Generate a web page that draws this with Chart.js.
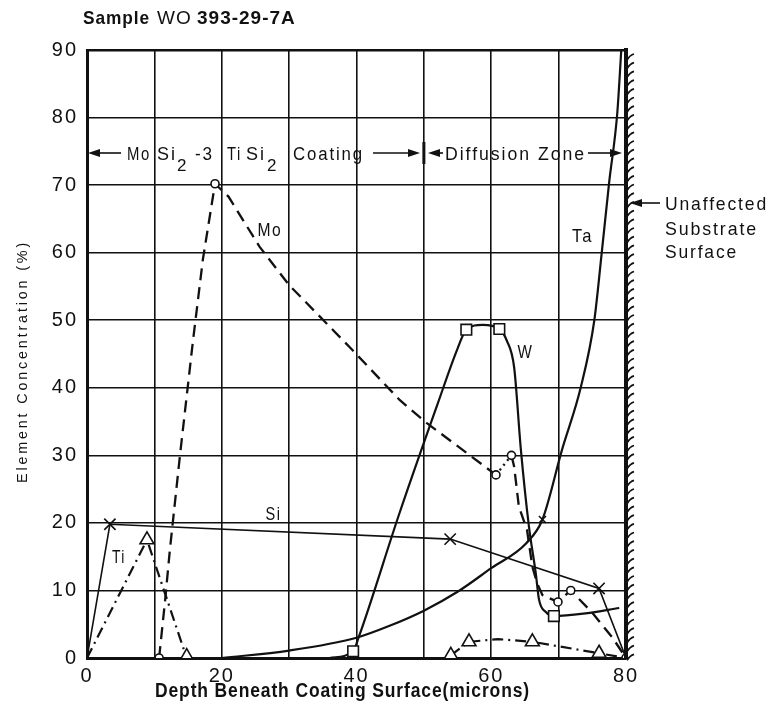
<!DOCTYPE html>
<html>
<head>
<meta charset="utf-8" />
<title>Sample WO 393-29-7A</title>
<script src="https://cdn.jsdelivr.net/npm/chart.js"></script>
<style>
  body { margin:0; padding:0; background:#fff; }
  #chart { display:block; }
</style>
</head>
<body>
<canvas id="chart" width="774" height="708"></canvas>
<script>
// depth beneath coating surface (microns) vs element concentration (%)
const xTickLabels = [0, 20, 40, 60, 80];

// traced curves
const moDepth = [10.7, 11.6, 12.3, 13.8, 15.7, 17.2, 19.0, 21.0, 25.6, 30.0, 39.0, 46.4, 50.4, 56.3, 60.7, 63.0, 63.4, 64.1, 65.3, 66.1, 66.8, 67.6, 69.9, 71.8, 75.0, 78.0, 80.0];
const moConc  = [0, 8.6, 16.0, 30.0, 46.7, 59.0, 70.2, 68.3, 60.9, 55.2, 46.0, 38.2, 34.8, 30.4, 27.1, 30.0, 28.3, 22.4, 19.0, 13.5, 11.1, 9.3, 8.3, 10.0, 6.7, 3.0, 0];
const siDepth = [0, 3.4, 53.9, 76.0, 80.0];
const siConc  = [0, 19.8, 17.6, 10.3, 0];
const tiDepth = [0, 8.9, 14.8, 54.0, 56.7, 61.0, 66.1, 76.0, 80.0];
const tiConc  = [0, 17.5, 0, 0.4, 2.4, 2.8, 2.4, 0.7, 0];
const wDepth  = [36.0, 39.5, 40.3, 46.4, 52.0, 55.0, 56.3, 58.7, 61.2, 62.3, 63.4, 64.4, 65.6, 66.6, 67.1, 68.1, 69.3, 74.0, 79.0];
const wConc   = [0, 1.0, 3.0, 21.5, 37.5, 45.8, 48.6, 49.3, 48.7, 47.0, 43.0, 30.8, 19.4, 12.6, 8.6, 6.8, 6.2, 6.6, 7.4];
const taDepth = [20, 30, 40, 45, 50, 55, 60, 65.2, 67.6, 70.5, 73.3, 75.3, 76.4, 77.5, 78.7, 79.3];
const taConc  = [0, 1.1, 3.0, 4.8, 7.0, 9.8, 13.3, 17.0, 20.5, 30.8, 40.1, 50.0, 60.0, 70.4, 80.6, 90.0];

// measured points (markers)
const moPtDepth = [10.7, 19.0, 60.7, 63.0, 69.9, 71.8, 80.0];
const moPtConc  = [0, 70.2, 27.1, 30.0, 8.3, 10.0, 0];
const siPtDepth = [3.4, 53.9, 76.0];
const siPtConc  = [19.8, 17.6, 10.3];
const tiPtDepth = [8.9, 14.8, 54.0, 56.7, 66.1, 76.0];
const tiPtConc  = [17.5, 0.2, 0.4, 2.4, 2.4, 0.7];
const wPtDepth  = [39.5, 56.3, 61.2, 69.3];
const wPtConc   = [1.0, 48.6, 48.7, 6.2];
const taPtDepth = [67.6];
const taPtConc  = [20.5];

const INK = '#111';
const FONT = '"Liberation Sans", Arial, sans-serif';

const pts = (xs, ys) => xs.map((v, i) => ({ x: v, y: ys[i] }));

function curve(xs, ys, extra) {
  return Object.assign({
    data: pts(xs, ys), showLine: true, borderColor: INK, borderWidth: 2,
    pointRadius: 0, fill: false, order: 1, borderCapStyle: 'butt'
  }, extra);
}

function marks(xs, ys, style, r) {
  return {
    data: pts(xs, ys), showLine: false, pointStyle: style, pointRadius: r,
    pointBorderWidth: 1.6, pointBorderColor: INK, pointBackgroundColor: '#fff', order: 0
  };
}

function fitText(ctx, s, x, y, size, w, weight) {
  ctx.font = (weight || 'normal') + ' ' + size + 'px ' + FONT;
  ctx.fillText(s, x, y, w);
}

function arrow(ctx, from, to, y) {
  const d = Math.sign(to - from);
  ctx.beginPath();
  ctx.moveTo(from, y);
  ctx.lineTo(to - d * 8, y);
  ctx.stroke();
  ctx.beginPath();
  ctx.moveTo(to, y);
  ctx.lineTo(to - d * 12, y - 4);
  ctx.lineTo(to - d * 12, y + 4);
  ctx.closePath();
  ctx.fill();
}

const decor = {
  id: 'decor',
  beforeDraw(chart) {
    const ctx = chart.ctx;
    ctx.save();
    ctx.fillStyle = '#fff';
    ctx.fillRect(0, 0, chart.width, chart.height);
    ctx.restore();
    ctx.letterSpacing = '2px';
  },
  afterDraw(chart) {
    const { ctx, chartArea: a, scales: { x, y } } = chart;
    ctx.save();
    ctx.fillStyle = INK;
    ctx.strokeStyle = INK;
    ctx.textAlign = 'left';
    ctx.textBaseline = 'alphabetic';

    // unaffected substrate wall with hatching
    ctx.lineWidth = 4;
    ctx.beginPath();
    ctx.moveTo(a.right, a.top - 2);
    ctx.lineTo(a.right, a.bottom + 1);
    ctx.stroke();
    ctx.lineWidth = 1.8;
    for (let yy = a.top + 6; yy < a.bottom; yy += 8.7) {
      ctx.beginPath();
      ctx.moveTo(a.right + 1, yy + 4);
      ctx.quadraticCurveTo(a.right + 4, yy - 1, a.right + 8, yy - 2);
      ctx.stroke();
    }

    // title
    ctx.letterSpacing = '1px';
    fitText(ctx, 'Sample', 83, 24, 19, 67, 'bold');
    fitText(ctx, 'WO', 157, 24, 19, 36);
    fitText(ctx, '393-29-7A', 197, 24, 19, 108, 'bold');

    // axis titles
    fitText(ctx, 'Depth Beneath Coating Surface(microns)', 155, 697, 20, 375, 'bold');
    ctx.save();
    ctx.translate(27, 483);
    ctx.rotate(-Math.PI / 2);
    ctx.letterSpacing = '3px';
    fitText(ctx, 'Element Concentration (%)', 0, 0, 15, 243);
    ctx.restore();

    // zone annotations
    ctx.letterSpacing = '2px';
    const yz = 153;
    ctx.lineWidth = 1.6;
    arrow(ctx, 121, a.left + 1, yz);
    fitText(ctx, 'Mo', 127, 160, 18, 24);
    fitText(ctx, 'Si', 157, 160, 18, 20);
    fitText(ctx, '2', 177, 171, 17, 12);
    fitText(ctx, '-3', 195, 160, 18, 19);
    fitText(ctx, 'Ti', 227, 160, 18, 15);
    fitText(ctx, 'Si', 246, 160, 18, 20);
    fitText(ctx, '2', 267, 171, 17, 12);
    fitText(ctx, 'Coating', 293, 160, 18, 71);
    arrow(ctx, 373, 420, yz);
    ctx.lineWidth = 3;
    ctx.beginPath();
    ctx.moveTo(x.getPixelForValue(50), 142);
    ctx.lineTo(x.getPixelForValue(50), 164);
    ctx.stroke();
    ctx.lineWidth = 1.6;
    arrow(ctx, 443, 428, yz);
    fitText(ctx, 'Diffusion Zone', 445, 160, 18, 141);
    arrow(ctx, 588, 622, yz);

    // substrate surface callout
    arrow(ctx, 660, a.right + 4, 203);
    fitText(ctx, 'Unaffected', 665, 210, 19, 103);
    fitText(ctx, 'Substrate', 665, 235, 19, 93);
    fitText(ctx, 'Surface', 665, 258, 19, 73);

    // element labels
    const labels = [['Mo', 25.3, 62.4, 25], ['Si', 26.5, 20.4, 16], ['Ti', 3.7, 14.1, 14], ['W', 63.9, 44.4, 16], ['Ta', 72.0, 61.6, 21]];
    labels.forEach(([s, dx, dy, w]) => fitText(ctx, s, x.getPixelForValue(dx), y.getPixelForValue(dy), 19, w));
    ctx.restore();
  }
};

const tickFont = { family: FONT, size: 20 };

new Chart(document.getElementById('chart'), {
  type: 'scatter',
  data: {
    datasets: [
      curve(moDepth, moConc, {
        borderDash: [12, 7], borderWidth: 2.3,
        segment: { borderDash: c => (c.p0.parsed.x === 60.7 ? [2, 4] : undefined) }
      }),
      curve(siDepth, siConc, { borderWidth: 1.6 }),
      curve(tiDepth, tiConc, {
        borderDash: [11, 5, 2, 5], borderWidth: 2.2,
        segment: { borderColor: c => (c.p1.parsed.x - c.p0.parsed.x > 20 ? 'rgba(0,0,0,0)' : undefined) }
      }),
      curve(wDepth, wConc, { borderWidth: 2.2, cubicInterpolationMode: 'monotone' }),
      curve(taDepth, taConc, { borderWidth: 2.2, cubicInterpolationMode: 'monotone' }),
      marks(moPtDepth, moPtConc, 'circle', 4),
      marks(siPtDepth, siPtConc, 'crossRot', 8),
      marks(tiPtDepth, tiPtConc, 'triangle', 8),
      marks(wPtDepth, wPtConc, 'rect', 7.5),
      marks(taPtDepth, taPtConc, 'crossRot', 5)
    ]
  },
  options: {
    responsive: false,
    animation: false,
    layout: { padding: { left: 0, right: 148, top: 50, bottom: 0 } },
    plugins: { legend: { display: false }, tooltip: { enabled: false } },
    scales: {
      x: {
        type: 'linear', min: 0, max: 80,
        afterFit: s => { s.height = 50; },
        border: { color: INK, width: 3 },
        grid: { color: INK, lineWidth: 1.6, drawTicks: false },
        ticks: {
          stepSize: 10, padding: 6, color: INK, font: tickFont, maxRotation: 0, autoSkip: false,
          callback: v => (xTickLabels.includes(v) ? String(v) : '')
        }
      },
      y: {
        min: 0, max: 90,
        afterFit: s => { s.width = 87; },
        border: { color: INK, width: 3 },
        grid: { color: INK, lineWidth: c => (c.tick && c.tick.value === 90 ? 2.6 : 1.6), drawTicks: false },
        ticks: { stepSize: 10, padding: 9, color: INK, font: tickFont }
      }
    }
  },
  plugins: [decor]
});
</script>
</body>
</html>
